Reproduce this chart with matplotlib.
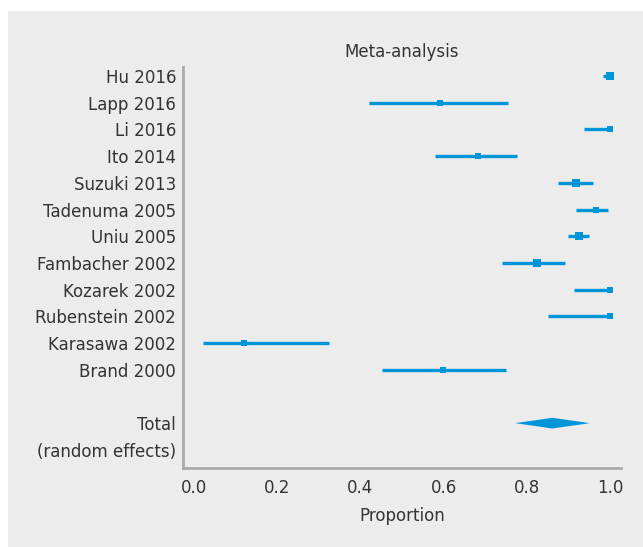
from matplotlib import pyplot as plt
from matplotlib.patches import Rectangle, Polygon

# study data (proportion, lower CI, upper CI)
studies = ["Hu 2016", "Lapp 2016", "Li 2016", "Ito 2014", "Suzuki 2013",
           "Tadenuma 2005", "Uniu 2005", "Fambacher 2002", "Kozarek 2002",
           "Rubenstein 2002", "Karasawa 2002", "Brand 2000"]
prop = [1.0, 0.592, 1.0, 0.683, 0.919, 0.966, 0.925, 0.825, 1.0, 1.0, 0.121, 0.599]
lower = [0.983, 0.42, 0.938, 0.580, 0.874, 0.917, 0.899, 0.741, 0.913, 0.850, 0.021, 0.452]
upper = [1.0, 0.755, 1.0, 0.776, 0.958, 0.994, 0.949, 0.892, 1.0, 1.0, 0.325, 0.749]
weight = [8, 6, 6, 6, 7, 6, 8, 7, 6, 5, 5, 5]   # marker size in px

total = 0.861
total_lo, total_hi = 0.772, 0.951

blue = "#0095d9"
grey = "#ebeceb"
txt = "#333333"

fig = plt.figure(figsize=(6.43, 5.47), dpi=100)
fig.patch.set_facecolor("white")
fig.patches.append(Rectangle((8 / 643, 0), 1, 1 - 11 / 547, transform=fig.transFigure,
                             facecolor=grey, edgecolor="none", zorder=-10))

ax = fig.add_axes([183 / 643, 1 - 468 / 547, (621 - 183) / 643, (468 - 66.7) / 547])
ax.set_facecolor(grey)

rows = list(range(len(studies)))
for i, y in enumerate(rows):
    ax.plot([lower[i], upper[i]], [y, y], color=blue, lw=2.4, solid_capstyle="butt")
    ax.plot(prop[i], y, marker="s", color=blue, ms=weight[i] * 0.72 * 1.1, mew=0)

y_tot = 13
d = Polygon([[total_lo, y_tot], [total, y_tot - 0.2], [total_hi, y_tot], [total, y_tot + 0.2]],
            closed=True, facecolor=blue, edgecolor="none")
ax.add_patch(d)

ax.set_xlim(-0.0264, 1.026)
ax.set_ylim(14.68, -0.35)
ax.set_yticks(rows + [13, 14])
ax.set_yticklabels(studies + ["Total", "(random effects)"])
ax.set_xticks([0, 0.2, 0.4, 0.6, 0.8, 1.0])
ax.set_xticklabels(["0.0", "0.2", "0.4", "0.6", "0.8", "1.0"])
ax.tick_params(length=0, labelsize=12, colors=txt, pad=5)
ax.tick_params(axis="x", pad=8)

for s in ["top", "right"]:
    ax.spines[s].set_visible(False)
for s in ["left", "bottom"]:
    ax.spines[s].set_color("#aaaaaa")
    ax.spines[s].set_linewidth(2)

ax.set_title("Meta-analysis", fontsize=12, color=txt, pad=7)
ax.set_xlabel("Proportion", fontsize=12, color=txt, labelpad=7)

fig.savefig("out.png", dpi=100)
